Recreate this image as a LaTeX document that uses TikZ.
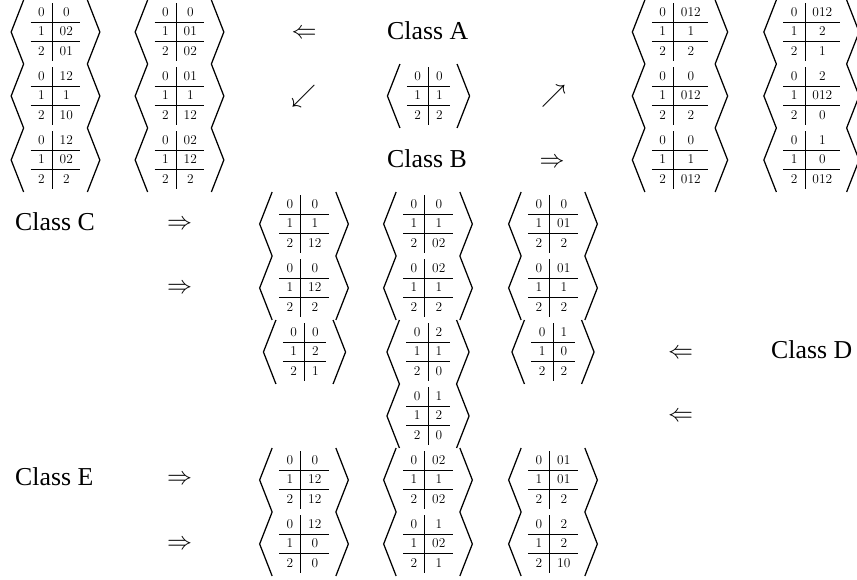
\documentclass[tikz,border=0pt]{standalone}
\usepackage{fontspec}
\usepackage{graphicx}
\usetikzlibrary{calc}
\newfontfamily\classfont{Liberation Serif}
\setlength\tabcolsep{7.5pt}
\setlength\arrayrulewidth{0.8pt}
\newcommand\bigsym[1]{\scalebox{2.5}{$#1$}}
\newcommand\cellT[6]{%
  \node[tabnode] (#1) at (#2,#3) {\begin{tabular}{c|c}0 & #4\\\hline 1 & #5\\\hline 2 & #6\end{tabular}};
  \draw[brk] ($(#1.west)+(-7,-32)$) -- ($(#1.west)+(-19.5,0)$) -- ($(#1.west)+(-7,32)$);
  \draw[brk] ($(#1.east)+(7,-32)$) -- ($(#1.east)+(19.5,0)$) -- ($(#1.east)+(7,32)$);
}
\tikzset{
  tabnode/.style={inner sep=0pt, outer sep=0pt, font=\fontsize{13.4}{18.5}\selectfont},
  brk/.style={line width=1.25pt, line join=miter},
  cls/.style={inner sep=0pt, anchor=west, font=\classfont\fontsize{25.8}{30}\selectfont},
  arr/.style={inner sep=0pt}
}
\begin{document}
\begin{tikzpicture}[x=1pt, y=-1pt]
\fill[white] (0,0) rectangle (857,579);
\useasboundingbox (0,0) rectangle (857,579);
% top-left stacks
\cellT{sa1}{55.5}{32}{0}{02}{01}
\cellT{sa2}{55.5}{96}{12}{1}{10}
\cellT{sa3}{55.5}{160}{12}{02}{2}
\cellT{sb1}{179.5}{32}{0}{01}{02}
\cellT{sb2}{179.5}{96}{01}{1}{12}
\cellT{sb3}{179.5}{160}{02}{12}{2}
% central
\cellT{cen}{428.5}{96}{0}{1}{2}
% top-right stacks
\cellT{sc1}{680}{32}{012}{1}{2}
\cellT{sc2}{680}{96}{0}{012}{2}
\cellT{sc3}{680}{160}{0}{1}{012}
\cellT{sd1}{811.5}{32}{012}{2}{1}
\cellT{sd2}{811.5}{96}{2}{012}{0}
\cellT{sd3}{811.5}{160}{1}{0}{012}
% middle block
\cellT{m11}{304}{224}{0}{1}{12}
\cellT{m12}{304}{288}{0}{12}{2}
\cellT{m13}{304.5}{352}{0}{2}{1}
\cellT{m21}{428}{224}{0}{1}{02}
\cellT{m22}{428}{288}{02}{1}{2}
\cellT{m23}{428}{352}{2}{1}{0}
\cellT{m24}{428}{416}{1}{2}{0}
\cellT{m31}{553}{224}{0}{01}{2}
\cellT{m32}{553}{288}{01}{1}{2}
\cellT{m33}{553}{352}{1}{0}{2}
% bottom block
\cellT{b11}{304}{480}{0}{12}{12}
\cellT{b12}{304}{544}{12}{0}{0}
\cellT{b21}{428}{480}{02}{1}{02}
\cellT{b22}{428}{544}{1}{02}{1}
\cellT{b31}{553}{480}{01}{01}{2}
\cellT{b32}{553}{544}{2}{2}{10}
% class labels
\node[cls] (clA) at (387,31) {Class A};
\node[cls] (clB) at (387,158.5) {Class B};
\node[cls] (clC) at (15,222) {Class C};
\node[cls] (clD) at (771,350) {Class D};
\node[cls] (clE) at (15,476.5) {Class E};
% arrow symbols
\node[arr] (arA) at (304,33.5) {\bigsym{\Leftarrow}};
\node[arr] (arSW) at (303.5,96) {\bigsym{\swarrow}};
\node[arr] (arNE) at (553.5,96) {\bigsym{\nearrow}};
\node[arr] (arB) at (552,162.5) {\bigsym{\Rightarrow}};
\node[arr] (arC1) at (179.5,224.5) {\bigsym{\Rightarrow}};
\node[arr] (arC2) at (179.5,288.5) {\bigsym{\Rightarrow}};
\node[arr] (arD1) at (680.5,353.5) {\bigsym{\Leftarrow}};
\node[arr] (arD2) at (680.5,416.5) {\bigsym{\Leftarrow}};
\node[arr] (arE1) at (179.5,479.5) {\bigsym{\Rightarrow}};
\node[arr] (arE2) at (179.5,544.5) {\bigsym{\Rightarrow}};
\end{tikzpicture}
\end{document}
